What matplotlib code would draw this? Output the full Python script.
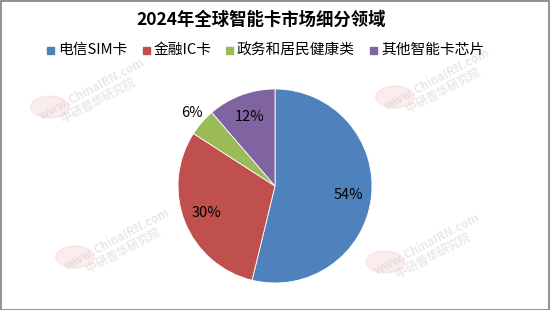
import matplotlib
matplotlib.use('Agg')
import matplotlib.pyplot as plt
from matplotlib.patches import Rectangle, Circle

plt.rcParams['font.family'] = ['Noto Sans CJK SC', 'DejaVu Sans']

TITLE = '2024年全球智能卡市场细分领域'
categories = ['电信SIM卡', '金融IC卡', '政务和居民健康类', '其他智能卡芯片']
shares = [53.8, 30.3, 4.6, 11.3]          # slice sizes
pct_labels = ['54%', '30%', '6%', '12%']  # labels as printed on the chart
colors = ['#4F81BD', '#C0504D', '#9BBB59', '#8064A2']

W, H = 550, 310
fig = plt.figure(figsize=(W / 100, H / 100), dpi=100)
fig.patch.set_facecolor('white')

# faint publisher watermarks
for wx, wy in [(95, 95), (120, 245), (430, 250), (440, 85)]:
    fig.text(wx / W, 1 - wy / H, 'www.ChinaIRN.com\n中研普华研究院', rotation=28,
             ha='center', va='center', fontsize=8.5, color='#c8c8c8', alpha=0.4,
             fontweight='bold', linespacing=1.0, zorder=0)
    fig.patches.append(Circle(((wx - 45) / W, 1 - (wy + 12) / H), 0.035,
                              transform=fig.transFigure, color='#f3c5c5',
                              alpha=0.3, zorder=0))

# pie axes: centre (275, 186), radius ~97 px
cx, cy, r = 275, 186, 97
ax = fig.add_axes([(cx - r) / W, (H - cy - r) / H, 2 * r / W, 2 * r / H])
lab_iter = iter(pct_labels)
wedges, texts, autotexts = ax.pie(
    shares, colors=colors, startangle=90, counterclock=False, radius=1,
    autopct=lambda p: next(lab_iter), pctdistance=0.76,
    wedgeprops=dict(edgecolor='white', linewidth=0.6),
    textprops=dict(fontsize=10.5, color='black'))
# small green slice label sits outside
x, y = autotexts[2].get_position()
autotexts[2].set_position((x * 1.5, y * 1.5))
ax.set_xlim(-1, 1)
ax.set_ylim(-1, 1)
ax.set_aspect('equal')
ax.axis('off')

fig.text(261 / W, 1 - 20 / H, TITLE, ha='center', va='center', fontsize=12.5,
         fontweight='bold')

# legend row
lx = [47, 143, 226, 370]
for x0, lab, c in zip(lx, categories, colors):
    fig.patches.append(Rectangle((x0 / W, 1 - 53.5 / H), 7 / W, 7 / H,
                                 transform=fig.transFigure, color=c))
    fig.text((x0 + 11) / W, 1 - 50 / H, lab, ha='left', va='center',
             fontsize=10.6)

# chart border
fig.patches.append(Rectangle((0.5 / W, 0.5 / H), 1 - 1.5 / W, 1 - 1.5 / H,
                             transform=fig.transFigure, fill=False,
                             edgecolor='#7f7f7f', linewidth=1.2))

fig.savefig('out.png', dpi=100)
